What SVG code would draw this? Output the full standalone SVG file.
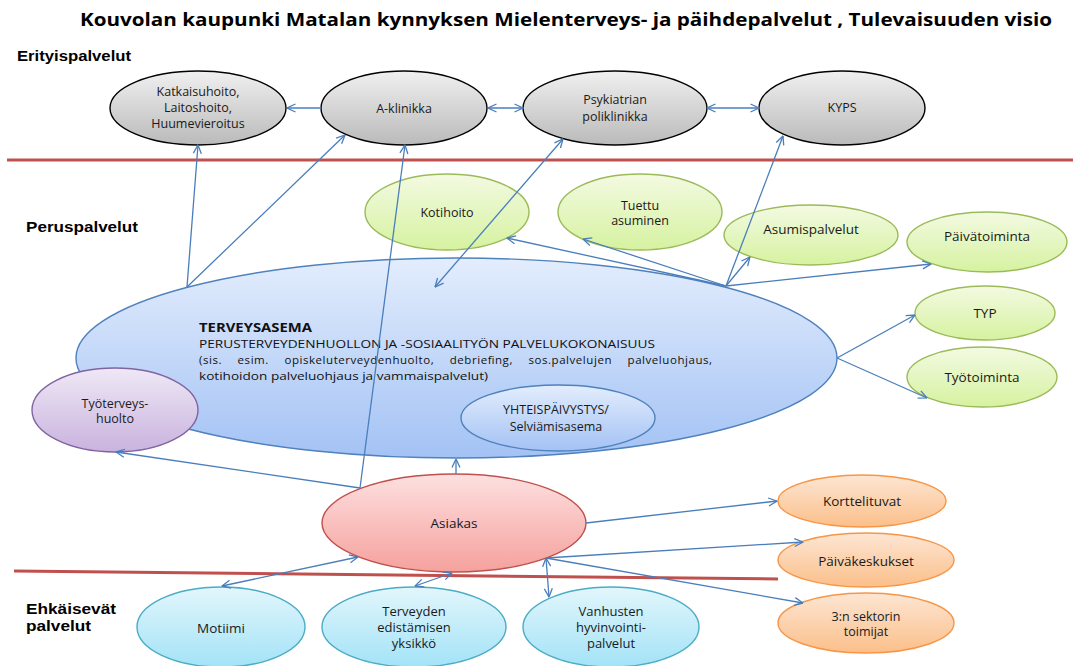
<svg xmlns="http://www.w3.org/2000/svg" width="1073" height="666" viewBox="0 0 1073 666">
<style>
.lbl{font-family:"Open Sans","Liberation Sans",sans-serif;font-size:12.5px;fill:#1a1a1a;text-anchor:middle}
.big{font-size:13.5px}
.tri{font-size:13px}
.sec{font-family:"Liberation Sans",Arial,sans-serif;font-weight:bold;font-size:14px;fill:#000}
.body{font-family:"Open Sans","Liberation Sans",sans-serif;font-size:11.5px;fill:#111}
.gray{fill:url(#gGray);stroke:#000;stroke-width:1.4}
.green{fill:url(#gGreen);stroke:#9bbb59;stroke-width:1.4}
.blueL{fill:url(#gCyan);stroke:#4bacc6;stroke-width:1.4}
.orange{fill:url(#gOrange);stroke:#f79646;stroke-width:1.4}
.red{fill:url(#gRed);stroke:#c0504d;stroke-width:1.4}
.purple{fill:url(#gPurple);stroke:#8064a2;stroke-width:1.4}
.blue{fill:url(#gBlue);stroke:#4f81bd;stroke-width:1.4}
.conn line{stroke:#4a7ebb;stroke-width:1.3;fill:none}
.one{marker-end:url(#arr)}
.two{marker-start:url(#arr);marker-end:url(#arr)}
.sep{stroke:#c0504d;stroke-width:3}
</style>
<defs>
<linearGradient id="gGray" x1="0" y1="0" x2="0" y2="1"><stop offset="0" stop-color="#f0f0f0"/><stop offset="1" stop-color="#bababa"/></linearGradient>
<linearGradient id="gGreen" x1="0" y1="0" x2="0" y2="1"><stop offset="0" stop-color="#f3fae2"/><stop offset="1" stop-color="#d6f2a0"/></linearGradient>
<linearGradient id="gCyan" x1="0" y1="0" x2="0" y2="1"><stop offset="0" stop-color="#e2f6fc"/><stop offset="1" stop-color="#a3e3f7"/></linearGradient>
<linearGradient id="gOrange" x1="0" y1="0" x2="0" y2="1"><stop offset="0" stop-color="#fde6d3"/><stop offset="1" stop-color="#fbbf8a"/></linearGradient>
<linearGradient id="gRed" x1="0" y1="0" x2="0" y2="1"><stop offset="0" stop-color="#fde0e0"/><stop offset="1" stop-color="#f5a19d"/></linearGradient>
<linearGradient id="gPurple" x1="0" y1="0" x2="0" y2="1"><stop offset="0" stop-color="#efe8f6"/><stop offset="1" stop-color="#c9b3de"/></linearGradient>
<linearGradient id="gBlue" x1="0" y1="0" x2="0" y2="1"><stop offset="0" stop-color="#e3edfd"/><stop offset="1" stop-color="#a3c2f4"/></linearGradient>
<marker id="arr" viewBox="0 0 10 10" refX="9.5" refY="5" markerWidth="10" markerHeight="10" markerUnits="userSpaceOnUse" orient="auto-start-reverse">
<path d="M1,1 L9.5,5 L1,9" fill="none" stroke="#4a7ebb" stroke-width="1.3"/>
</marker>
</defs>
<rect width="1073" height="666" fill="#fff"/>

<text x="80" y="26" font-family="'Open Sans','Liberation Sans',sans-serif" font-weight="bold" font-size="18.5" fill="#000" textLength="972" lengthAdjust="spacingAndGlyphs">Kouvolan kaupunki Matalan kynnyksen Mielenterveys- ja päihdepalvelut , Tulevaisuuden visio</text>

<text class="sec" x="17" y="61" textLength="114" lengthAdjust="spacingAndGlyphs">Erityispalvelut</text>
<text class="sec" x="26" y="232" textLength="112" lengthAdjust="spacingAndGlyphs">Peruspalvelut</text>
<text class="sec" x="26" y="614" textLength="90" lengthAdjust="spacingAndGlyphs">Ehkäisevät</text>
<text class="sec" x="26" y="631" textLength="65" lengthAdjust="spacingAndGlyphs">palvelut</text>

<line class="sep" x1="7" y1="160" x2="1073" y2="160"/>
<line class="sep" x1="14" y1="571" x2="778" y2="579"/>

<g id="katkaisuhoito">
<ellipse class="gray" cx="198" cy="108" rx="88" ry="37"/>
<text class="lbl" x="198" y="96">Katkaisuhoito,</text>
<text class="lbl" x="198" y="112">Laitoshoito,</text>
<text class="lbl" x="198" y="128">Huumevieroitus</text>
</g>
<g id="a-klinikka">
<ellipse class="gray" cx="404" cy="108" rx="83" ry="37"/>
<text class="lbl" x="404" y="113">A-klinikka</text>
</g>
<g id="psykiatrian">
<ellipse class="gray" cx="615" cy="108" rx="92" ry="37"/>
<text class="lbl" x="615" y="104">Psykiatrian</text>
<text class="lbl" x="615" y="121">poliklinikka</text>
</g>
<g id="kyps">
<ellipse class="gray" cx="842" cy="108" rx="83" ry="37"/>
<text class="lbl" x="842" y="112" font-size="11.5">KYPS</text>
</g>

<g id="terveysasema">
<ellipse class="blue" cx="456.5" cy="358" rx="380.5" ry="100"/>
<text class="body" x="199" y="332" font-weight="bold" font-size="12.5" textLength="113" lengthAdjust="spacingAndGlyphs">TERVEYSASEMA</text>
<text class="body" x="199" y="348" textLength="456" lengthAdjust="spacingAndGlyphs">PERUSTERVEYDENHUOLLON JA -SOSIAALITYÖN PALVELUKOKONAISUUS</text>
<text class="body" x="199" y="364" word-spacing="12" textLength="513" lengthAdjust="spacing">(sis. esim. opiskeluterveydenhuolto, debriefing, sos.palvelujen palveluohjaus,</text>
<text class="body" x="199" y="380" textLength="289" lengthAdjust="spacingAndGlyphs">kotihoidon palveluohjaus ja vammaispalvelut)</text>
</g>
<g id="yhteispaivystys">
<ellipse class="blue" cx="558" cy="418" rx="97" ry="33"/>
<text class="lbl" x="556" y="414" font-size="11">YHTEISPÄIVYSTYS/</text>
<text class="lbl" x="556" y="431" font-size="11">Selviämisasema</text>
</g>
<g id="tyoterveyshuolto">
<ellipse class="purple" cx="115" cy="410" rx="83" ry="42"/>
<text class="lbl" x="115" y="408" font-size="12">Työterveys-</text>
<text class="lbl" x="115" y="423" font-size="12">huolto</text>
</g>

<g id="kotihoito">
<ellipse class="green" cx="447" cy="212" rx="82" ry="38"/>
<text class="lbl" x="447" y="217" font-size="12">Kotihoito</text>
</g>
<g id="tuettu-asuminen">
<ellipse class="green" cx="640" cy="212" rx="82" ry="38"/>
<text class="lbl" x="640" y="210">Tuettu</text>
<text class="lbl" x="640" y="225">asuminen</text>
</g>
<g id="asumispalvelut">
<ellipse class="green" cx="811" cy="235" rx="87" ry="30"/>
<text class="lbl big" x="811" y="234">Asumispalvelut</text>
</g>
<g id="paivatoiminta">
<ellipse class="green" cx="987" cy="242" rx="80" ry="30"/>
<text class="lbl big" x="987" y="241">Päivätoiminta</text>
</g>
<g id="typ">
<ellipse class="green" cx="985" cy="313" rx="70" ry="27"/>
<text class="lbl big" x="985" y="318">TYP</text>
</g>
<g id="tyotoiminta">
<ellipse class="green" cx="982" cy="377" rx="75" ry="30"/>
<text class="lbl big" x="982" y="382">Työtoiminta</text>
</g>

<g id="asiakas">
<ellipse class="red" cx="454" cy="523" rx="132" ry="49"/>
<text class="lbl big" x="454" y="528">Asiakas</text>
</g>

<g id="korttelituvat">
<ellipse class="orange" cx="862" cy="501" rx="84" ry="26"/>
<text class="lbl big" x="862" y="506">Korttelituvat</text>
</g>
<g id="paivakeskukset">
<ellipse class="orange" cx="866" cy="560" rx="88" ry="27"/>
<text class="lbl big" x="866" y="566">Päiväkeskukset</text>
</g>
<g id="sektori">
<ellipse class="orange" cx="866" cy="623" rx="88" ry="30"/>
<text class="lbl" x="866" y="621" font-size="12">3:n sektorin</text>
<text class="lbl" x="866" y="636" font-size="12">toimijat</text>
</g>

<g id="motiimi">
<ellipse class="blueL" cx="221" cy="627" rx="84" ry="40"/>
<text class="lbl big" x="221" y="633">Motiimi</text>
</g>
<g id="terveyden-edistaminen">
<ellipse class="blueL" cx="414" cy="627" rx="92" ry="40"/>
<text class="lbl tri" x="414" y="616">Terveyden</text>
<text class="lbl tri" x="414" y="632">edistämisen</text>
<text class="lbl tri" x="414" y="648">yksikkö</text>
</g>
<g id="vanhusten">
<ellipse class="blueL" cx="611" cy="627" rx="88" ry="40"/>
<text class="lbl tri" x="611" y="616">Vanhusten</text>
<text class="lbl tri" x="611" y="632">hyvinvointi-</text>
<text class="lbl tri" x="611" y="648">palvelut</text>
</g>

<g id="connectors" class="conn">
<line class="one" x1="321" y1="108" x2="287" y2="108"/>
<line class="two" x1="488" y1="108" x2="523" y2="108"/>
<line class="two" x1="707" y1="108" x2="759" y2="108"/>
<line class="one" x1="187" y1="287" x2="198" y2="145"/>
<line class="one" x1="187" y1="287" x2="345" y2="135"/>
<line class="one" x1="360" y1="488" x2="405" y2="145"/>
<line class="one" x1="360" y1="488" x2="116" y2="452"/>
<line class="two" x1="435" y1="287" x2="563" y2="139"/>
<line class="one" x1="726" y1="286" x2="783" y2="136"/>
<line class="one" x1="726" y1="286" x2="507" y2="238"/>
<line class="one" x1="726" y1="286" x2="583" y2="239"/>
<line class="one" x1="726" y1="286" x2="750" y2="257"/>
<line class="one" x1="726" y1="286" x2="931" y2="264"/>
<line class="one" x1="837" y1="358" x2="915" y2="315"/>
<line class="one" x1="837" y1="358" x2="927" y2="398"/>
<line class="one" x1="456" y1="474" x2="456" y2="459"/>
<line class="two" x1="222" y1="586" x2="358" y2="557"/>
<line class="two" x1="415" y1="586" x2="452" y2="573"/>
<line class="two" x1="546" y1="558" x2="549" y2="597"/>
<line class="one" x1="586" y1="523" x2="777" y2="501"/>
<line class="one" x1="546" y1="558" x2="803" y2="542"/>
<line class="one" x1="546" y1="558" x2="803" y2="603"/>
</g>
</svg>
